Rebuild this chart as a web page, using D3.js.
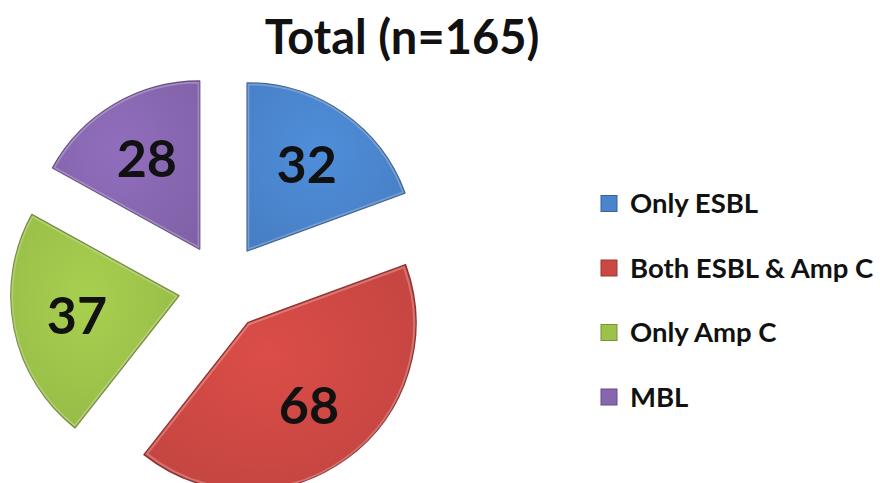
<!DOCTYPE html>
<html>
<head>
<meta charset="utf-8">
<script src="https://cdn.jsdelivr.net/npm/d3@7"></script>
<style>
  body { margin: 0; background: #fff; }
  svg { display: block; font-family: Lato, "Open Sans", sans-serif; }
</style>
</head>
<body>
<svg id="chart" width="880" height="483"></svg>
<script>
const title = "Total (n=165)";
const categories = ["Only ESBL", "Both ESBL & Amp C", "Only Amp C", "MBL"];
const counts = [32, 68, 37, 28];
const colors = ["#4a84cc", "#cc4843", "#9cc24a", "#8766b0"];

const CONFIG = {
    cx: 222, cy: 287,
    radius: 168,
    explode: 44,
    labelRadius: 104
};

const svg = d3.select("#chart");
const defs = svg.append("defs");

// light-to-dark gradient per slice for a bevelled look
colors.forEach((c, i) => {
    const g = defs.append("radialGradient")
        .attr("id", "grad" + i)
        .attr("cx", "45%").attr("cy", "40%").attr("r", "75%");
    g.append("stop").attr("offset", "0%").attr("stop-color", d3.color(c).brighter(0.2));
    g.append("stop").attr("offset", "100%").attr("stop-color", d3.color(c).darker(0.15));
});

svg.append("text")
    .attr("x", 402).attr("y", 54)
    .attr("text-anchor", "middle")
    .attr("font-size", 47).attr("font-weight", 700)
    .attr("fill", "#111")
    .text(title);

const pie = d3.pie().sort(null).value(d => d.value);
const arcs = pie(categories.map((name, i) => ({ name, value: counts[i], i })));

const arc = d3.arc().innerRadius(0).outerRadius(CONFIG.radius);
const labelArc = d3.arc().innerRadius(CONFIG.labelRadius).outerRadius(CONFIG.labelRadius);

const pieG = svg.append("g").attr("transform", `translate(${CONFIG.cx},${CONFIG.cy})`);

const slice = pieG.selectAll("g.slice")
    .data(arcs)
    .join("g")
    .attr("class", "slice")
    .attr("transform", d => {
        const a = (d.startAngle + d.endAngle) / 2;
        return `translate(${Math.sin(a) * CONFIG.explode},${-Math.cos(a) * CONFIG.explode})`;
    });

slice.append("path")
    .attr("d", arc)
    .attr("fill", d => `url(#grad${d.data.i})`)
    .attr("stroke", d => d3.color(colors[d.data.i]).darker(0.9))
    .attr("stroke-width", 1.5)
    .attr("stroke-linejoin", "round");

// inner light rim
slice.append("path")
    .attr("d", d3.arc().innerRadius(0).outerRadius(CONFIG.radius - 3))
    .attr("fill", "none")
    .attr("stroke", "#fff")
    .attr("stroke-opacity", 0.25)
    .attr("stroke-width", 2)
    .attr("transform", d => {
        const a = (d.startAngle + d.endAngle) / 2;
        return `translate(${Math.sin(a) * 2},${-Math.cos(a) * 2})`;
    });

slice.append("text")
    .attr("transform", d => `translate(${labelArc.centroid(d)})`)
    .attr("text-anchor", "middle")
    .attr("dy", "0.33em")
    .attr("font-size", 52).attr("font-weight", 700)
    .attr("fill", "#111")
    .text(d => d.data.value);

// legend
const legend = svg.append("g").attr("transform", "translate(601,0)");
const legendY = d3.scalePoint().domain(categories).range([203.5, 397]);

const item = legend.selectAll("g")
    .data(categories)
    .join("g")
    .attr("transform", d => `translate(0,${legendY(d)})`);

item.append("rect")
    .attr("x", 0).attr("y", -8)
    .attr("width", 16).attr("height", 16)
    .attr("fill", (d, i) => colors[i])
    .attr("stroke", (d, i) => d3.color(colors[i]).darker(0.8))
    .attr("stroke-width", 1);

item.append("text")
    .attr("x", 29).attr("dy", "0.36em")
    .attr("font-size", 27.5).attr("font-weight", 700)
    .attr("fill", "#111")
    .text(d => d);
</script>
</body>
</html>
